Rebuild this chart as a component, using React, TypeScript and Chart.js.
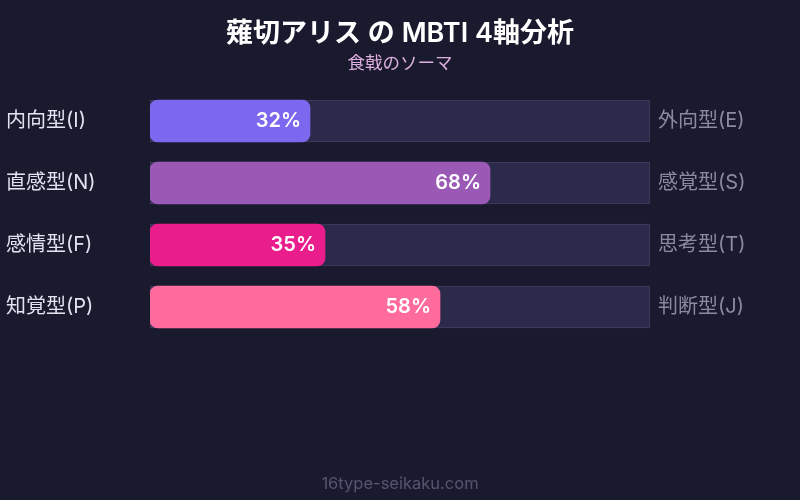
import React, { useEffect, useRef } from 'react';
import { Chart, registerables } from 'chart.js';

Chart.register(...registerables);

const leftLabels = ['内向型(I)', '直感型(N)', '感情型(F)', '知覚型(P)'];
const rightLabels = ['外向型(E)', '感覚型(S)', '思考型(T)', '判断型(J)'];
const values = [32, 68, 35, 58];
const trackValues = [100, 100, 100, 100];
const barColors = ['#7b68ee', '#9b59b6', '#e91e8c', '#ff6b9d'];

const titleText = '薙切アリス の MBTI 4軸分析';
const subtitleText = '食戟のソーマ';
const footerText = '16type-seikaku.com';

const FONT = "Inter, 'Noto Sans CJK JP', 'Noto Sans', sans-serif";

const textPlugin = {
  id: 'mbtiText',
  afterDatasetsDraw(chart: Chart) {
    const { ctx, chartArea, scales } = chart;
    const yScale = scales.y;
    const xScale = scales.x;
    ctx.save();
    ctx.textBaseline = 'middle';

    ctx.textAlign = 'center';
    ctx.fillStyle = '#ffffff';
    ctx.font = `600 27px ${FONT}`;
    ctx.fillText(titleText, 400, 34);
    ctx.fillStyle = '#dcaede';
    ctx.font = `17.5px ${FONT}`;
    ctx.fillText(subtitleText, 400, 64);

    leftLabels.forEach((label, i) => {
      const y = yScale.getPixelForValue(i);
      ctx.textAlign = 'left';
      ctx.fillStyle = '#e2e2f0';
      ctx.font = `20px ${FONT}`;
      ctx.fillText(label, 6, y);
      ctx.fillStyle = '#8a8aa2';
      ctx.fillText(rightLabels[i], chartArea.right + 8, y);
      ctx.textAlign = 'right';
      ctx.fillStyle = '#ffffff';
      ctx.font = `600 20px ${FONT}`;
      ctx.fillText(`${values[i]}%`, xScale.getPixelForValue(values[i]) - 9, y);
    });

    ctx.textAlign = 'center';
    ctx.fillStyle = '#555572';
    ctx.font = `16.5px ${FONT}`;
    ctx.fillText(footerText, 400, 484);
    ctx.restore();
  },
};

export default function App() {
  const canvasRef = useRef<HTMLCanvasElement>(null);
  const chartRef = useRef<Chart>();

  useEffect(() => {
    document.body.style.margin = '0';
    document.body.style.background = '#1a1a2e';
    if (!canvasRef.current) return;
    if (chartRef.current) chartRef.current.destroy();
    const ctx = canvasRef.current.getContext('2d');
    if (!ctx) return;

    chartRef.current = new Chart(ctx, {
      type: 'bar',
      data: {
        labels: leftLabels,
        datasets: [
          {
            data: values,
            backgroundColor: barColors,
            borderRadius: 8,
            borderSkipped: false,
            barThickness: 42,
            grouped: false,
          },
          {
            data: trackValues,
            backgroundColor: '#2c2a4a',
            borderColor: '#403e60',
            borderWidth: 1,
            borderSkipped: false,
            barThickness: 42,
            grouped: false,
          },
        ],
      },
      options: {
        indexAxis: 'y',
        responsive: false,
        animation: false,
        layout: { padding: { left: 150, right: 150, top: 90, bottom: 162 } },
        scales: {
          x: { display: false, min: 0, max: 100 },
          y: { display: false },
        },
        plugins: {
          legend: { display: false },
          tooltip: { enabled: false },
        },
      },
      plugins: [
        {
          id: 'bg',
          beforeDraw(chart: Chart) {
            const c = chart.ctx;
            c.save();
            c.fillStyle = '#1a1a2e';
            c.fillRect(0, 0, chart.width, chart.height);
            c.restore();
          },
        },
        textPlugin,
      ],
    });

    return () => {
      if (chartRef.current) {
        chartRef.current.destroy();
        chartRef.current = undefined;
      }
    };
  }, []);

  return <canvas ref={canvasRef} width={800} height={500} style={{ display: 'block' }} />;
}
